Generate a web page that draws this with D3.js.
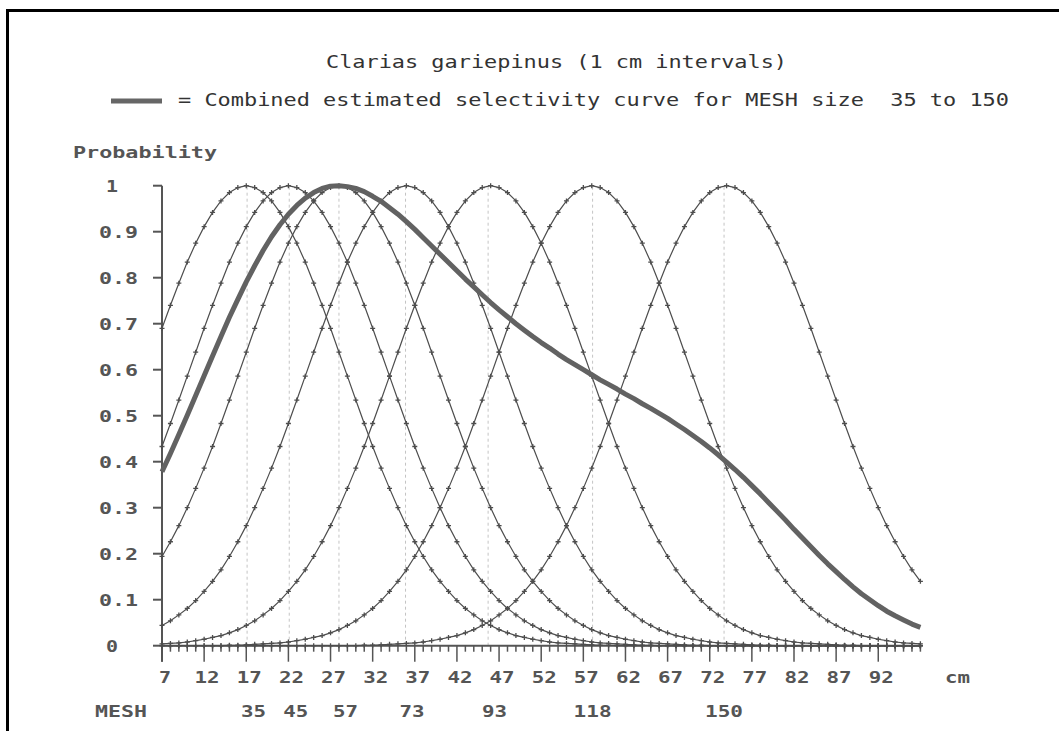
<!DOCTYPE html>
<html><head><meta charset="utf-8">
<script src="https://cdn.jsdelivr.net/npm/d3@7"></script>
<style>
html,body{margin:0;padding:0;background:#fff;}
svg{display:block;}
text{white-space:pre;}
</style></head>
<body>
<svg id="chart" width="1059" height="731"></svg>
<script>
// ---- data ----
const titleText = "Clarias gariepinus (1 cm intervals)";
const legendText = "= Combined estimated selectivity curve for MESH size  35 to 150";
const lengths = [7,8,9,10,11,12,13,14,15,16,17,18,19,20,21,22,23,24,25,26,27,28,29,30,31,32,33,34,35,36,37,38,39,40,41,42,43,44,45,46,47,48,49,50,51,52,53,54,55,56,57,58,59,60,61,62,63,64,65,66,67,68,69,70,71,72,73,74,75,76,77,78,79,80,81,82,83,84,85,86,87,88,89,90,91,92,93,94,95,96,97];
const meshSizes = [35, 45, 57, 73, 93, 118, 150];
const meshModes = [17.1, 22.1, 28.0, 35.9, 45.7, 58.1, 73.7];
const xTickLabels = [7,12,17,22,27,32,37,42,47,52,57,62,67,72,77,82,87,92];
const yTickValues = [0,0.1,0.2,0.3,0.4,0.5,0.6,0.7,0.8,0.9,1];
const yTickLabels = ["0","0.1","0.2","0.3","0.4","0.5","0.6","0.7","0.8","0.9","1"];

const mesh35 = [.690,.740,.788,.834,.875,.911,.942,.967,.985,.996, 1,
 .996,.985,.967,.942,.911,.875,.834,.788,.740,.690,.638,.586,.534,.483,.433,.386,.342,.300,.261,.226,.194,.165,.140,.118,.098,.081,.067,.054,.044,.035,.028,.022,.018,.014,.011,.008,.006,.005,.004,.003,.002,.001,.001,
 0,0,0,0,0,0,0,0,0,0, 0,0,0,0,0,0,0,0,0,0, 0,0,0,0,0,0,0,0,0,0, 0,0,0,0,0,0,0];
const mesh45 = [.433,.483,.534,.586,.638,.690,.740,.788,.834,.875,.911,.942,.967,.985,.996, 1,
 .996,.985,.967,.942,.911,.875,.834,.788,.740,.690,.638,.586,.534,.483,.433,.386,.342,.300,.261,.226,.194,.165,.140,.118,.098,.081,.067,.054,.044,.035,.028,.022,.018,.014,.011,.008,.006,.005,.004,.003,.002,.001,.001,
 0,0,0,0,0,0,0,0,0,0, 0,0,0,0,0,0,0,0,0,0, 0,0,0,0,0,0,0,0,0,0, 0,0];
const mesh57 = [.194,.226,.261,.300,.342,.386,.433,.483,.534,.586,.638,.690,.740,.788,.834,.875,.911,.942,.967,.985,.996, 1,
 .996,.985,.967,.942,.911,.875,.834,.788,.740,.690,.638,.586,.534,.483,.433,.386,.342,.300,.261,.226,.194,.165,.140,.118,.098,.081,.067,.054,.044,.035,.028,.022,.018,.014,.011,.008,.006,.005,.004,.003,.002,.001,.001,
 0,0,0,0,0,0,0,0,0,0, 0,0,0,0,0,0,0,0,0,0, 0,0,0,0,0,0];
const mesh73 = [.044,.054,.067,.081,.098,.118,.140,.165,.194,.226,.261,.300,.342,.386,.433,.483,.534,.586,.638,.690,.740,.788,.834,.875,.911,.942,.967,.985,.996, 1,
 .996,.985,.967,.942,.911,.875,.834,.788,.740,.690,.638,.586,.534,.483,.433,.386,.342,.300,.261,.226,.194,.165,.140,.118,.098,.081,.067,.054,.044,.035,.028,.022,.018,.014,.011,.008,.006,.005,.004,.003,.002,.001,.001,
 0,0,0,0,0,0,0,0,0,0, 0,0,0,0,0,0,0,0];
const mesh93 = [.004,.005,.006,.008,.011,.014,.018,.022,.028,.035,.044,.054,.067,.081,.098,.118,.140,.165,.194,.226,.261,.300,.342,.386,.433,.483,.534,.586,.638,.690,.740,.788,.834,.875,.911,.942,.967,.985,.996, 1,
 .996,.985,.967,.942,.911,.875,.834,.788,.740,.690,.638,.586,.534,.483,.433,.386,.342,.300,.261,.226,.194,.165,.140,.118,.098,.081,.067,.054,.044,.035,.028,.022,.018,.014,.011,.008,.006,.005,.004,.003,.002,.001,.001,
 0,0,0,0,0,0,0,0];
const mesh118 = [0,0,0,0,0,0,0,0,
 .001,.001,.002,.003,.004,.005,.006,.008,.011,.014,.018,.022,.028,.035,.044,.054,.067,.081,.098,.118,.140,.165,.194,.226,.261,.300,.342,.386,.433,.483,.534,.586,.638,.690,.740,.788,.834,.875,.911,.942,.967,.985,.996, 1,
 .996,.985,.967,.942,.911,.875,.834,.788,.740,.690,.638,.586,.534,.483,.433,.386,.342,.300,.261,.226,.194,.165,.140,.118,.098,.081,.067,.054,.044,.035,.028,.022,.018,.014,.011,.008,.006,.005,.004];
const mesh150 = [0,0,0,0,0,0,0,0,0,0, 0,0,0,0,0,0,0,0,0,0, 0,0,0,0,
 .001,.001,.002,.003,.004,.005,.006,.008,.011,.014,.018,.022,.028,.035,.044,.054,.067,.081,.098,.118,.140,.165,.194,.226,.261,.300,.342,.386,.433,.483,.534,.586,.638,.690,.740,.788,.834,.875,.911,.942,.967,.985,.996, 1,
 .996,.985,.967,.942,.911,.875,.834,.788,.740,.690,.638,.586,.534,.483,.433,.386,.342,.300,.261,.226,.194,.165,.140];
const combined = [.378,.418,.459,.501,.544,.587,.630,.672,.714,.753,
 .791,.826,.859,.889,.915,.938,.957,.973,.985,.994,
 .999,1,.998,.994,.987,.977,.966,.952,.938,.922,
 .905,.887,.869,.851,.833,.815,.797,.780,.763,.746,
 .730,.715,.700,.686,.672,.659,.647,.634,.622,.611,
 .600,.589,.578,.568,.558,.547,.537,.526,.516,.505,
 .494,.482,.470,.457,.444,.430,.415,.399,.383,.366,
 .348,.330,.311,.292,.273,.253,.234,.215,.196,.178,
 .161,.144,.128,.113,.100,.087,.075,.065,.056,.047,
 .040];
const meshCurves = [mesh35, mesh45, mesh57, mesh73, mesh93, mesh118, mesh150];

// ---- drawing ----
const svg = d3.select("#chart");
const x = d3.scaleLinear().domain([7, 97]).range([162, 920.4]);
const y = d3.scaleLinear().domain([0, 1]).range([645.7, 185.7]);
const gray = "#555";
const FONT = "'DejaVu Sans Mono', 'Liberation Mono', monospace";

function txt(str, px, py, opts = {}) {
  const t = svg.append("text")
    .attr("x", px).attr("y", py)
    .attr("font-family", FONT)
    .attr("font-size", opts.size || 16)
    .attr("font-weight", opts.weight || "bold")
    .attr("fill", opts.color || gray)
    .attr("text-anchor", opts.anchor || "start")
    .attr("xml:space", "preserve")
    .text(str);
  if (opts.width) {
    t.attr("textLength", opts.width).attr("lengthAdjust", opts.adjust || "spacingAndGlyphs");
  }
  return t;
}

// frame
svg.append("rect").attr("x", 7.5).attr("y", 10.5).attr("width", 1200).attr("height", 1000)
  .attr("fill", "none").attr("stroke", "#000").attr("stroke-width", 3);

// title & legend
txt(titleText, 326, 68, {size: 17, weight: "normal", color: "#333", width: 461, adjust: "spacingAndGlyphs"});
svg.append("line").attr("x1", 111).attr("x2", 162).attr("y1", 101).attr("y2", 101)
  .attr("stroke", "#666").attr("stroke-width", 5);
txt(legendText, 178, 106, {size: 17, weight: "normal", color: "#333", width: 831, adjust: "spacingAndGlyphs"});

// y-axis label
txt("Probability", 73, 158, {size: 16, width: 144});

// dotted mode lines
svg.append("g").selectAll("line").data(meshModes).join("line")
  .attr("x1", d => x(d)).attr("x2", d => x(d))
  .attr("y1", y(0)).attr("y2", y(1))
  .attr("stroke", "#c4c4c4").attr("stroke-width", 1).attr("stroke-dasharray", "3,3");

// y axis
svg.append("line").attr("x1", x(7)).attr("x2", x(7)).attr("y1", y(1)).attr("y2", y(0) + 16)
  .attr("stroke", gray).attr("stroke-width", 2);
svg.append("g").selectAll("line").data(yTickValues).join("line")
  .attr("x1", x(7) - 9).attr("x2", x(7)).attr("y1", d => y(d)).attr("y2", d => y(d))
  .attr("stroke", gray).attr("stroke-width", 2);
yTickValues.forEach((v, i) => {
  const lab = yTickLabels[i];
  if (lab.length === 1) txt(lab, 112, y(v) + 6, {anchor: "middle", width: 12});
  else txt(lab, 99, y(v) + 6, {width: 39});
});

// x axis
svg.append("line").attr("x1", x(7)).attr("x2", x(97)).attr("y1", y(0)).attr("y2", y(0))
  .attr("stroke", gray).attr("stroke-width", 2);
svg.append("g").selectAll("line").data(lengths).join("line")
  .attr("x1", d => x(d)).attr("x2", d => x(d))
  .attr("y1", y(0)).attr("y2", d => y(0) + (xTickLabels.includes(d) ? 16 : 6))
  .attr("stroke", gray).attr("stroke-width", 1.5);
xTickLabels.forEach(v => {
  const s = String(v);
  txt(s, x(v) + 3, 683, {anchor: "middle", width: s.length * 13 - 1});
});
txt("cm", 945, 683, {width: 25});

// MESH row
txt("MESH", 95, 717, {width: 52});
meshSizes.forEach((m, i) => {
  const s = String(m);
  txt(s, x(meshModes[i]) + 19, 717, {anchor: "end", width: s.length * 13 - 1});
});

// individual selectivity curves
const line = d3.line().x((d, i) => x(lengths[i])).y(d => y(d));
const curvesG = svg.append("g");
meshCurves.forEach(vals => {
  curvesG.append("path").attr("d", line(vals))
    .attr("fill", "none").attr("stroke", "#4d4d4d").attr("stroke-width", 1.2);
  curvesG.append("g").selectAll("path").data(vals).join("path")
    .attr("transform", (d, i) => `translate(${x(lengths[i])},${y(d)})`)
    .attr("d", "M-2.5,0H2.5M0,-2.5V2.5")
    .attr("stroke", "#4d4d4d").attr("stroke-width", 1.3);
});

// combined curve
svg.append("path").attr("d", line(combined))
  .attr("fill", "none").attr("stroke", "#626262").attr("stroke-width", 5)
  .attr("stroke-linejoin", "round");
</script>
</body></html>
